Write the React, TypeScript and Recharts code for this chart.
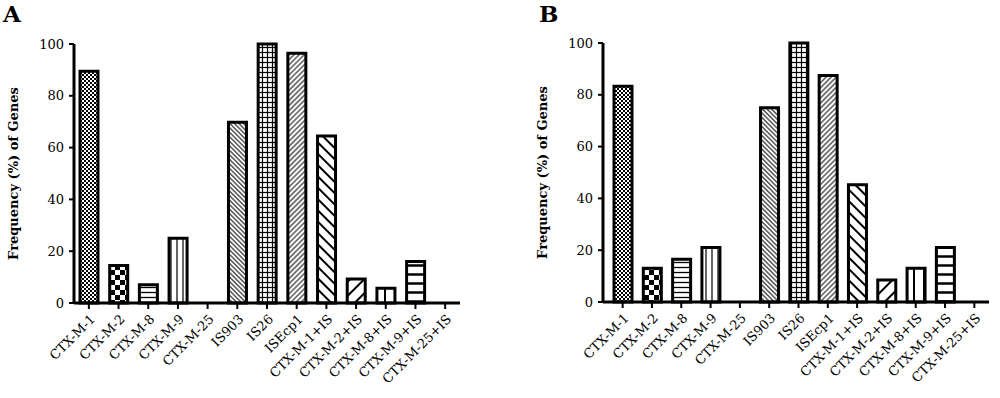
import React from "react";
import { BarChart, Bar, XAxis, YAxis, Cell } from "recharts";

const categories = [
  "CTX-M-1",
  "CTX-M-2",
  "CTX-M-8",
  "CTX-M-9",
  "CTX-M-25",
  "IS903",
  "IS26",
  "ISEcp1",
  "CTX-M-1+IS",
  "CTX-M-2+IS",
  "CTX-M-8+IS",
  "CTX-M-9+IS",
  "CTX-M-25+IS",
];

const valuesA = [89.5, 14.5, 7, 25, 0, 69.8, 100, 96.4, 64.5, 9.3, 5.7, 16, 0];
const valuesB = [83.3, 13, 16.5, 21, 0, 75, 100, 87.5, 45.3, 8.5, 13, 21, 0];

const yTicks = [0, 20, 40, 60, 80, 100];

const patternIds = [
  "p-fine-check",
  "p-check",
  "p-hlines",
  "p-vlines",
  "p-none",
  "p-thin-back",
  "p-grid",
  "p-thin-fwd",
  "p-wide-back",
  "p-wide-fwd",
  "p-wide-v",
  "p-wide-h",
  "p-none",
];

const serif = "'DejaVu Serif', serif";

function Patterns() {
  return (
    <svg width={0} height={0} style={{ position: "absolute" }}>
      <defs>
        <pattern id="p-fine-check" width={4} height={4} patternUnits="userSpaceOnUse">
          <rect width={4} height={4} fill="#fff" />
          <rect x={0} y={0} width={2} height={2} fill="#000" />
          <rect x={2} y={2} width={2} height={2} fill="#000" />
        </pattern>
        <pattern id="p-check" width={10} height={10} patternUnits="userSpaceOnUse">
          <rect width={10} height={10} fill="#fff" />
          <rect x={0} y={0} width={5} height={5} fill="#000" />
          <rect x={5} y={5} width={5} height={5} fill="#000" />
        </pattern>
        <pattern id="p-hlines" width={6} height={5} patternUnits="userSpaceOnUse">
          <rect width={6} height={5} fill="#fff" />
          <line x1={0} y1={2.5} x2={6} y2={2.5} stroke="#000" strokeWidth={1.3} />
        </pattern>
        <pattern id="p-vlines" width={6} height={6} patternUnits="userSpaceOnUse">
          <rect width={6} height={6} fill="#fff" />
          <line x1={3} y1={0} x2={3} y2={6} stroke="#000" strokeWidth={1.2} />
        </pattern>
        <pattern id="p-none" width={4} height={4} patternUnits="userSpaceOnUse">
          <rect width={4} height={4} fill="#fff" />
        </pattern>
        <pattern id="p-thin-back" width={3.2} height={3.2} patternUnits="userSpaceOnUse" patternTransform="rotate(-45)">
          <rect width={3.2} height={3.2} fill="#fff" />
          <line x1={1.6} y1={0} x2={1.6} y2={3.2} stroke="#000" strokeWidth={1} />
        </pattern>
        <pattern id="p-grid" width={5} height={5} patternUnits="userSpaceOnUse">
          <rect width={5} height={5} fill="#fff" />
          <line x1={0} y1={2.5} x2={5} y2={2.5} stroke="#000" strokeWidth={1.2} />
          <line x1={2.5} y1={0} x2={2.5} y2={5} stroke="#000" strokeWidth={1.2} />
        </pattern>
        <pattern id="p-thin-fwd" width={3.6} height={3.6} patternUnits="userSpaceOnUse" patternTransform="rotate(45)">
          <rect width={3.6} height={3.6} fill="#fff" />
          <line x1={1.8} y1={0} x2={1.8} y2={3.6} stroke="#000" strokeWidth={1} />
        </pattern>
        <pattern id="p-wide-back" width={8} height={8} patternUnits="userSpaceOnUse" patternTransform="rotate(-45)">
          <rect width={8} height={8} fill="#fff" />
          <line x1={4} y1={0} x2={4} y2={8} stroke="#000" strokeWidth={2} />
        </pattern>
        <pattern id="p-wide-fwd" width={10} height={10} patternUnits="userSpaceOnUse" patternTransform="rotate(45)">
          <rect width={10} height={10} fill="#fff" />
          <line x1={5} y1={0} x2={5} y2={10} stroke="#000" strokeWidth={2} />
        </pattern>
        <pattern id="p-wide-v" width={10} height={10} patternUnits="userSpaceOnUse">
          <rect width={10} height={10} fill="#fff" />
          <line x1={5} y1={0} x2={5} y2={10} stroke="#000" strokeWidth={2} />
        </pattern>
        <pattern id="p-wide-h" width={9} height={9} patternUnits="userSpaceOnUse">
          <rect width={9} height={9} fill="#fff" />
          <line x1={0} y1={4.5} x2={9} y2={4.5} stroke="#000" strokeWidth={2.5} />
        </pattern>
      </defs>
    </svg>
  );
}

function XTick(props: any) {
  const { x, y, payload } = props;
  return (
    <g transform={`translate(${x + 7},${y + 9}) rotate(-45)`}>
      <text x={0} y={0} textAnchor="end" fill="#000" fontSize={13} fontFamily={serif}>
        {payload.value}
      </text>
    </g>
  );
}

function Panel({
  values,
  width,
  margin,
  padLeft,
}: {
  values: number[];
  width: number;
  margin: { top: number; right: number; bottom: number; left: number };
  padLeft: number;
}) {
  const data = categories.map((name, i) => ({ name, value: values[i] }));
  return (
    <BarChart width={width} height={398} data={data} margin={margin}>
      <XAxis
        dataKey="name"
        interval={0}
        height={85}
        tick={<XTick />}
        tickSize={6}
        padding={{ left: padLeft, right: 0 }}
        axisLine={{ stroke: "#000", strokeWidth: 3 }}
        tickLine={{ stroke: "#000", strokeWidth: 2 }}
      />
      <YAxis
        domain={[0, 100]}
        ticks={yTicks}
        width={69}
        tickSize={5}
        tickMargin={5}
        axisLine={{ stroke: "#000", strokeWidth: 3 }}
        tickLine={{ stroke: "#000", strokeWidth: 2 }}
        tick={{ fill: "#000", fontSize: 13, fontFamily: serif }}
        label={{
          value: "Frequency (%) of Genes",
          angle: -90,
          position: "insideLeft",
          offset: 8,
          style: {
            textAnchor: "middle",
            fontFamily: serif,
            fontWeight: "bold",
            fontSize: 13,
            fill: "#000",
          },
        }}
      />
      <Bar dataKey="value" barSize={18} stroke="#000" strokeWidth={3} isAnimationActive={false}>
        {data.map((d, i) => (
          <Cell key={d.name} fill={`url(#${patternIds[i]})`} />
        ))}
      </Bar>
    </BarChart>
  );
}

export default function App() {
  const letter: React.CSSProperties = {
    position: "absolute",
    fontFamily: serif,
    fontWeight: "bold",
    fontSize: 23,
    lineHeight: 1,
    color: "#000",
  };
  return (
    <div style={{ position: "absolute", left: 0, top: 0, width: 1000, height: 398, background: "#fff" }}>
      <Patterns />
      <div style={{ position: "absolute", left: 0, top: 0 }}>
        <Panel values={valuesA} width={500} margin={{ top: 44, right: 40, bottom: 10, left: 5 }} padLeft={0} />
      </div>
      <div style={{ position: "absolute", left: 529, top: 0 }}>
        <Panel values={valuesB} width={471} margin={{ top: 43, right: 11, bottom: 11, left: 5 }} padLeft={5} />
      </div>
      <div style={{ ...letter, left: 3, top: 2 }}>A</div>
      <div style={{ ...letter, left: 539, top: 2 }}>B</div>
    </div>
  );
}
